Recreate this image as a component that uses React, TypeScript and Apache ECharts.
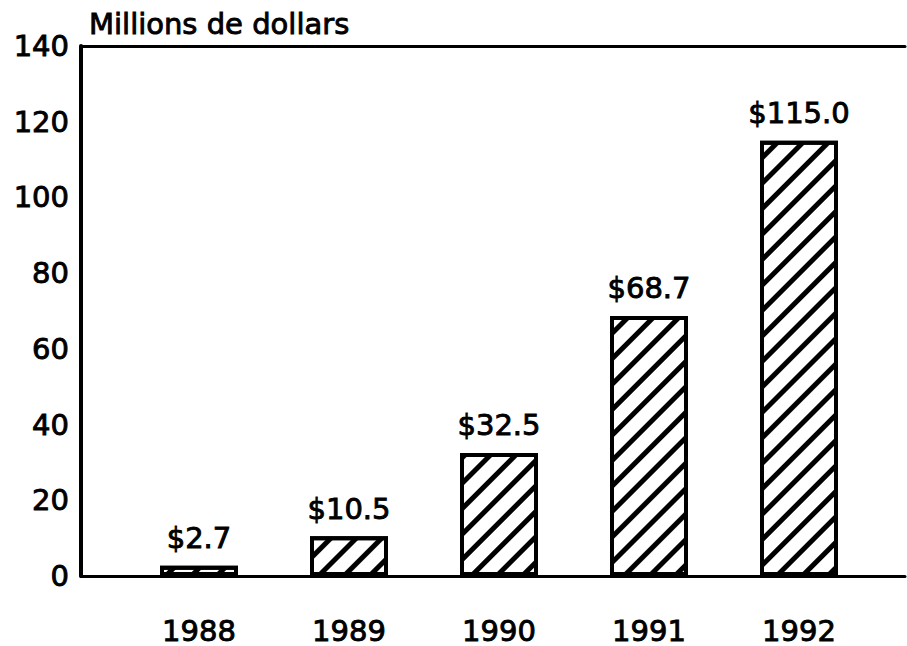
import React, { useEffect, useRef } from "react";
import * as echarts from "echarts";

const years = ["1988", "1989", "1990", "1991", "1992"];
const values = [2.7, 10.5, 32.5, 68.7, 115.0];
const yTicks = { min: 0, max: 140, interval: 20 };
const unitTitle = "Millions de dollars";

const FONT = "DejaVu Sans";
const txt = {
  fontFamily: FONT,
  fontWeight: "normal",
  color: "#000",
  textBorderColor: "#000",
  textBorderWidth: 0.9,
};

export default function App() {
  const ref = useRef<HTMLDivElement>(null);
  useEffect(() => {
    if (!ref.current) return;
    const chart = echarts.init(ref.current, null, { renderer: "svg" });
    const gridTop = 46;
    const gridBottom = 70;
    chart.setOption({
      animation: false,
      backgroundColor: "#fff",
      title: {
        text: unitTitle,
        left: 84,
        top: 4,
        textStyle: { ...txt, fontSize: 29 },
      },
      grid: [
        { left: 81, right: 2, top: gridTop, bottom: gridBottom },
        { left: 124, right: 33, top: gridTop, bottom: gridBottom },
      ],
      xAxis: [
        {
          type: "value",
          gridIndex: 0,
          min: 0,
          max: 1,
          position: "bottom",
          axisLine: { show: true, lineStyle: { color: "#000", width: 3 } },
          axisTick: { show: false },
          axisLabel: { show: false },
          splitLine: { show: false },
        },
        {
          type: "value",
          gridIndex: 0,
          min: 0,
          max: 1,
          position: "top",
          axisLine: { show: true, lineStyle: { color: "#000", width: 3 } },
          axisTick: { show: false },
          axisLabel: { show: false },
          splitLine: { show: false },
        },
        {
          type: "category",
          gridIndex: 1,
          data: years,
          axisLine: { show: false },
          axisTick: { show: false },
          axisLabel: { ...txt, margin: 40, fontSize: 29 },
        },
      ],
      yAxis: [
        {
          type: "value",
          gridIndex: 0,
          min: yTicks.min,
          max: yTicks.max,
          interval: yTicks.interval,
          axisLine: { show: true, lineStyle: { color: "#000", width: 4 } },
          axisTick: { show: false },
          splitLine: { show: false },
          axisLabel: { ...txt, margin: 12, fontSize: 29 },
        },
        {
          type: "value",
          gridIndex: 1,
          min: yTicks.min,
          max: yTicks.max,
          interval: yTicks.interval,
          show: false,
        },
      ],
      series: [
        {
          type: "bar",
          xAxisIndex: 2,
          yAxisIndex: 1,
          data: values,
          barWidth: 78,
          itemStyle: {
            color: "#fff",
            borderColor: "#000",
            borderWidth: 4,
            decal: {
              symbol: "rect",
              symbolSize: 1,
              color: "#000",
              dashArrayX: [1, 0],
              dashArrayY: [5, 13],
              rotation: -Math.PI / 4,
            },
          },
          label: {
            show: true,
            position: "top",
            distance: 13,
            ...txt,
            fontSize: 29,
            formatter: (p: any) => "$" + Number(p.value).toFixed(1),
          },
        },
      ],
    });
    return () => chart.dispose();
  }, []);
  return (
    <div
      ref={ref}
      style={{ position: "fixed", left: 0, top: 0, width: 907, height: 646 }}
    />
  );
}
